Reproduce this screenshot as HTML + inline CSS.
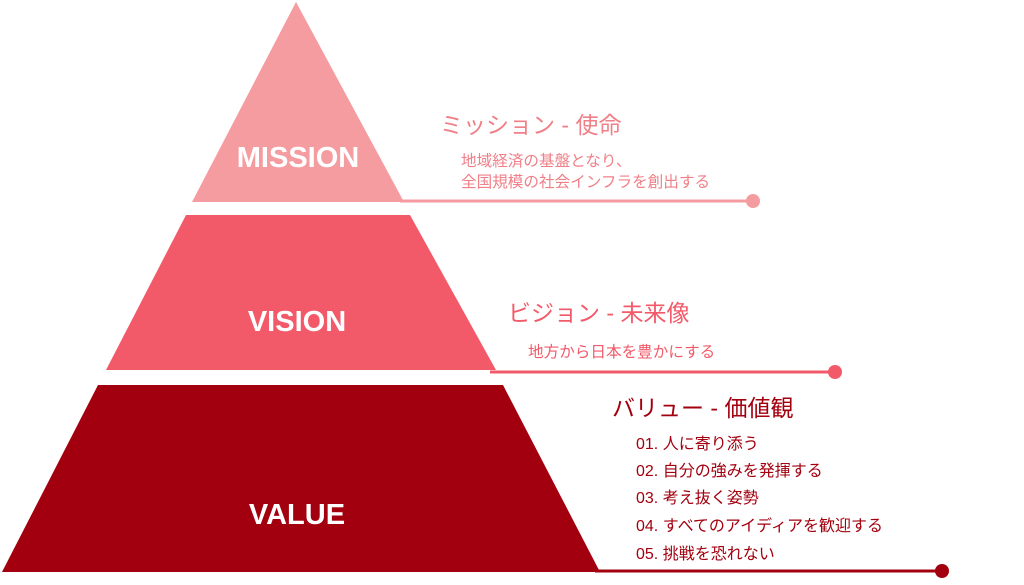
<!DOCTYPE html>
<html><head><meta charset="utf-8"><style>
body{margin:0;background:#fff;width:1024px;height:580px;overflow:hidden}
svg text{font-family:"Liberation Sans","Noto Sans CJK JP",sans-serif}
</style></head><body>
<svg width="1024" height="580" viewBox="0 0 1024 580">
<polygon points="296,2 192,202 404,202" fill="#f59ca1"/>
<polygon points="186,215 410,215 496,370 106,370" fill="#f25a69"/>
<polygon points="98,385 503,385 600,572 2,572" fill="#a3000f"/>
<line x1="400" y1="201" x2="753" y2="201" stroke="#f59ca1" stroke-width="3"/>
<circle cx="753" cy="201" r="7" fill="#f59ca1"/>
<line x1="490" y1="372" x2="835" y2="372" stroke="#f25a69" stroke-width="3"/>
<circle cx="835" cy="372" r="7" fill="#f25a69"/>
<line x1="595" y1="571" x2="942" y2="571" stroke="#a3000f" stroke-width="3"/>
<circle cx="942" cy="571" r="7" fill="#a3000f"/>
<g fill="#fff" font-weight="bold" font-size="29" text-anchor="middle">
<text x="298" y="167">MISSION</text>
<text x="297" y="331">VISION</text>
<text x="297" y="524">VALUE</text>
</g>
<g fill="#f08088">
<text x="440" y="133" font-size="23">ミッション - 使命</text>
<text x="461" y="166" font-size="15.6">地域経済の基盤となり、</text>
<text x="461" y="187" font-size="15.6">全国規模の社会インフラを創出する</text>
</g>
<g fill="#f25a69">
<text x="508" y="321" font-size="23">ビジョン - 未来像</text>
<text x="528" y="357" font-size="15.6">地方から日本を豊かにする</text>
</g>
<g fill="#a3000f">
<text x="612" y="416" font-size="23">バリュー - 価値観</text>
<g font-size="16">
<text x="636" y="449">01. 人に寄り添う</text>
<text x="636" y="476">02. 自分の強みを発揮する</text>
<text x="636" y="503">03. 考え抜く姿勢</text>
<text x="636" y="531">04. すべてのアイディアを歓迎する</text>
<text x="636" y="559">05. 挑戦を恐れない</text>
</g></g>
</svg>
</body></html>
